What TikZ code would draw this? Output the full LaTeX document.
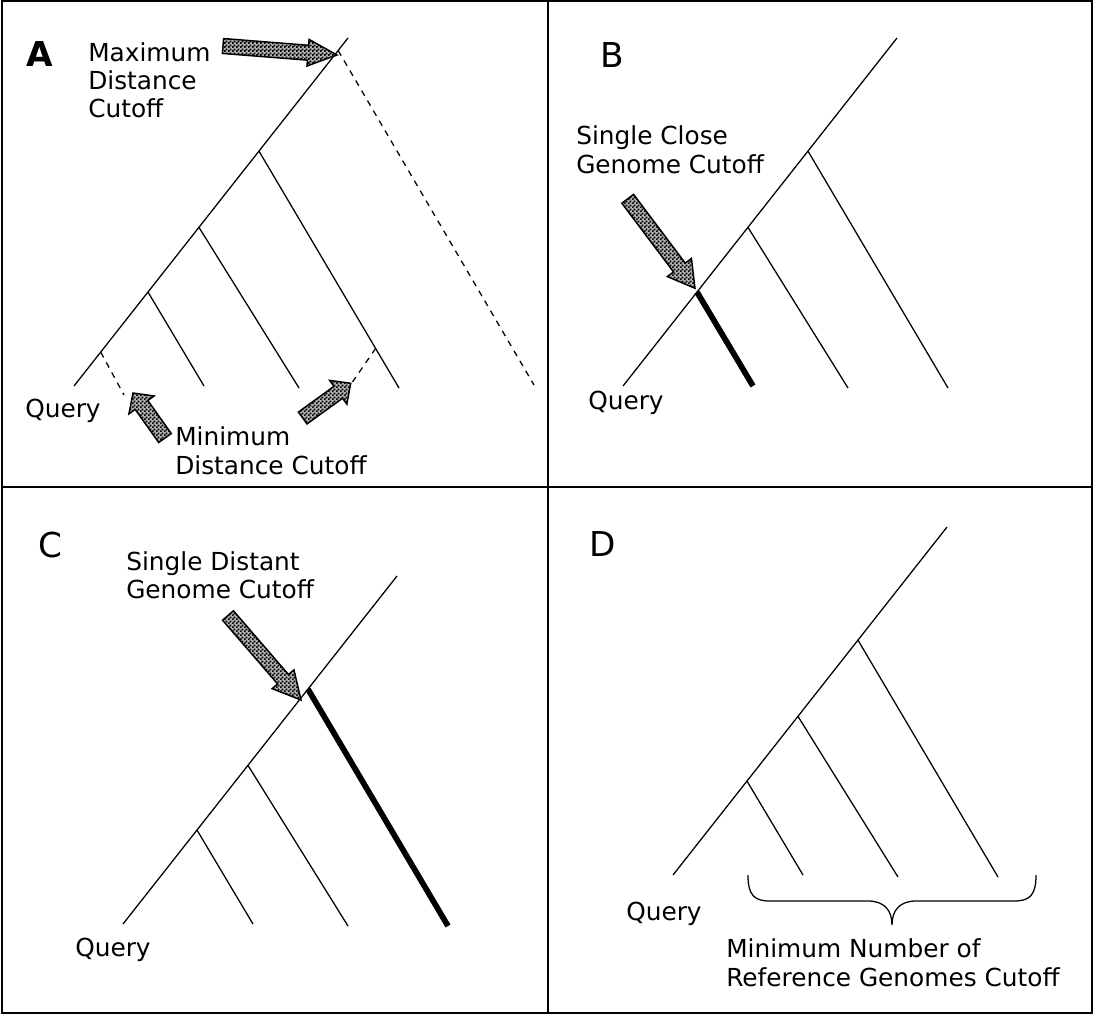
\documentclass[tikz,border=0pt]{standalone}
\usepackage{fontspec}
\setmainfont{DejaVu Sans}
\usetikzlibrary{calc,patterns}
\pgfdeclarepatternformonly{finecheck}{\pgfqpoint{0pt}{0pt}}{\pgfqpoint{3pt}{3pt}}{\pgfqpoint{3pt}{3pt}}{%
  \pgfpathrectangle{\pgfqpoint{0pt}{0pt}}{\pgfqpoint{1.6pt}{1.6pt}}%
  \pgfpathrectangle{\pgfqpoint{1.5pt}{1.5pt}}{\pgfqpoint{1.6pt}{1.6pt}}%
  \pgfusepath{fill}}
% tree coordinates, relative to the enclosing scope
\newcommand{\treecoords}[1]{%
  \coordinate (#1q) at (74,386);
  \coordinate (#1t) at (348,38);
  \coordinate (#1n1) at ($(#1q)!0.27!(#1t)$);
  \coordinate (#1n2) at ($(#1q)!0.456!(#1t)$);
  \coordinate (#1n3) at ($(#1q)!0.675!(#1t)$);
  \coordinate (#1e1) at (204,386);
  \coordinate (#1e2) at (299,388);
  \coordinate (#1e3) at (399,388);}
% block arrow: tail, tip, shaft half width, head half width, head length
\newcommand{\blockarrow}[5]{%
  \coordinate (#1-hb) at ($(#2)!#5!(#1)$);
  \draw[barrow] ($(#1)!#3!90:(#2)$) -- ($(#1-hb)!#3!-90:(#1)$) -- ($(#1-hb)!#4!-90:(#1)$)
    -- (#2) -- ($(#1-hb)!#4!90:(#1)$) -- ($(#1-hb)!#3!90:(#1)$) -- ($(#1)!#3!-90:(#2)$) -- cycle;}
\begin{document}
\begin{tikzpicture}[x=0.75pt,y=-0.75pt,
  frame/.style={line width=1.1pt},
  branch/.style={line width=0.95pt},
  thickbranch/.style={line width=4.3pt},
  cutline/.style={line width=0.95pt, dash pattern=on 4.5pt off 4.2pt},
  barrow/.style={line width=1.1pt, preaction={fill=black!30}, pattern=finecheck, line join=miter},
  lbl/.style={anchor=base west, inner sep=0pt, font=\fontsize{18.6pt}{22pt}\selectfont},
  plabel/.style={anchor=base west, inner sep=0pt, font=\fontsize{25.7pt}{30pt}\selectfont}]
\useasboundingbox (0,0) rectangle (1094,1016);
% frame
\draw[frame] (2,1) rectangle (1092,1013);
\draw[frame] (548,1) -- (548,1013);
\draw[frame] (2,487) -- (1092,487);

% ---------- Panel A ----------
\begin{scope}
  \treecoords{A}
  \coordinate (An4) at ($(Aq)!0.964!(At)$);
  \coordinate (Ae4) at (534,385);
  \coordinate (Am1) at ($(Aq)!0.0974!(At)$);
  \coordinate (Am1e) at (124,395);
  \coordinate (Am2) at ($(An3)!0.833!(Ae3)$);
  \coordinate (Am2e) at (352.5,382);
  \draw[branch] (Aq) -- (At);
  \draw[branch] (An1) -- (Ae1);
  \draw[branch] (An2) -- (Ae2);
  \draw[branch] (An3) -- (Ae3);
  \draw[cutline] (An4) -- (Ae4);
  \draw[cutline] (Am1) -- (Am1e);
  \draw[cutline] (Am2) -- (Am2e);
\end{scope}
\node[plabel, font=\fontsize{25.7pt}{30pt}\selectfont\bfseries] (labA) at (26,67) {A};
\node[lbl] (maxa) at (88,62) {Maximum};
\node[lbl] (maxb) at (88,90) {Distance};
\node[lbl] (maxc) at (88,117.5) {Cutoff};
\node[lbl] (mina) at (175,445) {Minimum};
\node[lbl] (minb) at (175,474) {Distance Cutoff};
\node[lbl] (qA) at (25,417) {Query};
\coordinate (maxtail) at (223,46);
\coordinate (maxtip) at (337,55);
\blockarrow{maxtail}{maxtip}{5.6pt}{10pt}{21.8pt}
\coordinate (min1tail) at (165,438);
\coordinate (min1tip) at (133,393);
\blockarrow{min1tail}{min1tip}{5.8pt}{11.6pt}{11pt}
\coordinate (min2tail) at (302.7,418);
\coordinate (min2tip) at (350.7,383.3);
\blockarrow{min2tail}{min2tip}{5.5pt}{11pt}{11.5pt}

% ---------- Panel B ----------
\begin{scope}[shift={(549,0)}]
  \treecoords{B}
  \draw[branch] (Bq) -- (Bt);
  \draw[thickbranch] (Bn1) -- (Be1);
  \draw[branch] (Bn2) -- (Be2);
  \draw[branch] (Bn3) -- (Be3);
\end{scope}
\node[plabel] (labB) at (600,68) {B};
\node[lbl] (sca) at (576,145) {Single Close};
\node[lbl] (scb) at (576,173.5) {Genome Cutoff};
\node[lbl] (qB) at (588,409) {Query};
\coordinate (btail) at (627.7,198.8);
\coordinate (btip) at (695,288.3);
\blockarrow{btail}{btip}{5.5pt}{11.3pt}{19.5pt}

% ---------- Panel C ----------
\begin{scope}[shift={(49,538)}]
  \treecoords{C}
  \draw[branch] (Cq) -- (Ct);
  \draw[branch] (Cn1) -- (Ce1);
  \draw[branch] (Cn2) -- (Ce2);
  \draw[thickbranch] (Cn3) -- (Ce3);
\end{scope}
\node[plabel] (labC) at (38,557) {C};
\node[lbl] (sda) at (126,570) {Single Distant};
\node[lbl] (sdb) at (126,598.5) {Genome Cutoff};
\node[lbl] (qC) at (75,956) {Query};
\coordinate (ctail) at (228,615.5);
\coordinate (ctip) at (301,700);
\blockarrow{ctail}{ctip}{5.4pt}{10.8pt}{20.6pt}

% ---------- Panel D ----------
\begin{scope}[shift={(599,489)}]
  \treecoords{D}
  \draw[branch] (Dq) -- (Dt);
  \draw[branch] (Dn1) -- (De1);
  \draw[branch] (Dn2) -- (De2);
  \draw[branch] (Dn3) -- (De3);
\end{scope}
\node[plabel] (labD) at (589,556) {D};
\node[lbl] (qD) at (626,920) {Query};
\coordinate (brL) at (748,875);
\coordinate (brR) at (1036,875);
\coordinate (brM) at (892,925);
\draw[branch] (brL) .. controls (748,895) and (754,901) .. (770,901) -- (868,901)
  .. controls (884,901) and (892,910) .. (brM)
  .. controls (892,910) and (900,901) .. (916,901) -- (1014,901)
  .. controls (1030,901) and (1036,895) .. (brR);
\node[lbl] (mna) at (726,957) {Minimum Number of};
\node[lbl] (mnb) at (726,986.5) {Reference Genomes Cutoff};
\end{tikzpicture}
\end{document}
